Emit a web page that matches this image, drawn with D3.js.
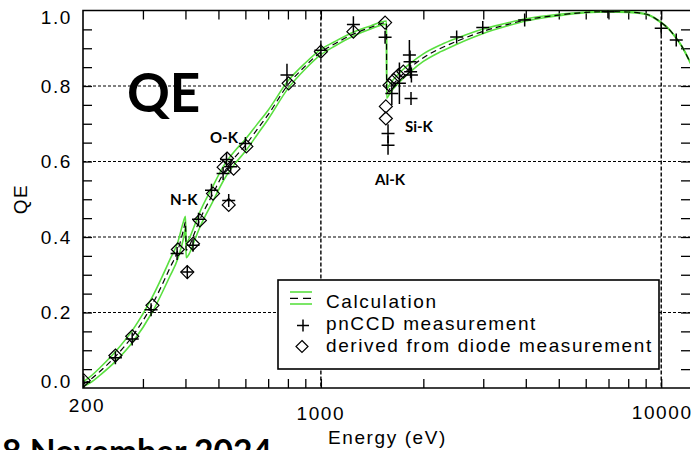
<!DOCTYPE html>
<html><head><meta charset="utf-8">
<script src="https://cdn.jsdelivr.net/npm/d3@7"></script>
<style>
html,body{margin:0;padding:0;background:#fff;}
svg{display:block;}
</style></head><body>
<svg id="chart" width="693" height="450"></svg>
<script>
// Calculated quantum efficiency: lower bound, central value, upper bound
const calcEnergy = [200, 210, 225, 250, 280, 320, 360, 380, 395, 400, 402, 410, 425, 440, 480, 520, 560, 600, 650, 700, 800, 900, 1000, 1100, 1250, 1400, 1559, 1560, 1600, 1700, 1838, 2000, 2250, 2500, 3000, 3500, 4000, 5000, 6000, 7000, 8000, 8700, 9200, 10000, 10500, 11000, 11500, 12200];
const calcMid  = [0.010, 0.022, 0.045, 0.085, 0.138, 0.222, 0.318, 0.365, 0.420, 0.440, 0.365, 0.375, 0.410, 0.444, 0.512, 0.572, 0.612, 0.643, 0.685, 0.724, 0.803, 0.853, 0.890, 0.912, 0.938, 0.955, 0.968, 0.780, 0.795, 0.822, 0.850, 0.875, 0.900, 0.918, 0.945, 0.962, 0.975, 0.988, 0.995, 0.997, 0.996, 0.993, 0.988, 0.968, 0.952, 0.930, 0.905, 0.860];
const calcHigh = [0.016, 0.030, 0.055, 0.098, 0.154, 0.242, 0.340, 0.387, 0.442, 0.455, 0.385, 0.395, 0.430, 0.464, 0.532, 0.591, 0.629, 0.659, 0.699, 0.736, 0.813, 0.861, 0.897, 0.918, 0.943, 0.959, 0.972, 0.792, 0.807, 0.834, 0.861, 0.885, 0.909, 0.926, 0.951, 0.966, 0.978, 0.990, 0.996, 0.998, 0.997, 0.994, 0.989, 0.969, 0.953, 0.931, 0.906, 0.861];
const calcLow  = [0.004, 0.014, 0.035, 0.072, 0.122, 0.202, 0.296, 0.343, 0.398, 0.425, 0.345, 0.355, 0.390, 0.424, 0.492, 0.553, 0.595, 0.627, 0.671, 0.712, 0.793, 0.845, 0.883, 0.906, 0.933, 0.951, 0.964, 0.768, 0.783, 0.810, 0.839, 0.865, 0.891, 0.910, 0.939, 0.958, 0.972, 0.986, 0.994, 0.996, 0.995, 0.992, 0.987, 0.967, 0.951, 0.929, 0.904, 0.859];

// QE derived from diode measurement
const diodeEnergy = [201, 249, 279, 320, 380, 405, 421, 441, 482, 518, 530, 536, 554, 604, 804, 1000, 1246, 1544, 1552, 1552, 1590, 1636, 1690, 1747];
const diodeQE     = [0.020, 0.086, 0.137, 0.219, 0.367, 0.307, 0.382, 0.444, 0.515, 0.585, 0.608, 0.485, 0.581, 0.640, 0.807, 0.891, 0.944, 0.968, 0.746, 0.714, 0.802, 0.816, 0.829, 0.838];

// pnCCD measurements with vertical uncertainty
const ccdEnergy = [201, 249, 279, 317, 378, 405, 421, 437, 477, 516, 528, 536, 543, 600, 795, 1000, 1246, 1544, 1575, 1575, 1616, 1701, 1820, 1828, 1835, 1840, 1845, 2506, 2990, 3970, 6975, 10000, 11070];
const ccdQE     = [0.015, 0.080, 0.130, 0.207, 0.356, 0.307, 0.378, 0.447, 0.524, 0.568, 0.605, 0.497, 0.586, 0.648, 0.829, 0.895, 0.963, 0.929, 0.674, 0.643, 0.780, 0.807, 0.882, 0.864, 0.838, 0.767, 0.829, 0.930, 0.955, 0.975, 0.997, 0.953, 0.922];
const ccdErr    = [0, 0, 0, 0, 0, 0, 0, 0, 0, 0, 0, 0, 0, 0, 0.030, 0, 0.022, 0, 0.025, 0.025, 0.030, 0.055, 0.040, 0.030, 0, 0, 0.020, 0, 0, 0, 0, 0, 0];

// Axis ticks and labels
const xTicks = [300, 400, 500, 600, 700, 800, 900, 1000, 2000, 3000, 4000, 5000, 6000, 7000, 8000, 9000, 10000];
const xLabelValues = [200, 1000, 10000];
const yTicks = [0.05, 0.1, 0.15, 0.2, 0.25, 0.3, 0.35, 0.4, 0.45, 0.5, 0.55, 0.6, 0.65, 0.7, 0.75, 0.8, 0.85, 0.9, 0.95];
const yLabelValues = [0, 0.2, 0.4, 0.6, 0.8, 1.0];
const xGrid = [1000, 10000];
const yGrid = [0.2, 0.4, 0.6, 0.8];
const legendItems = ["Calculation", "pnCCD measurement", "derived from diode measurement"];

const svg = d3.select("#chart");
const L = 83, R = 690, T = 10.5, B = 388;
const x = d3.scaleLog().domain([200, 12150]).range([L, R]);
const y = d3.scaleLinear().domain([0, 1]).range([B, T]);
const green = "#5ae040";
const axisFont = "'Liberation Sans', Arial, sans-serif";
const axisSize = 19, axisSpacing = 1.6;

svg.append("rect").attr("width", 693).attr("height", 450).attr("fill", "#fff");
svg.append("defs").append("clipPath").attr("id", "plot")
  .append("rect").attr("x", L).attr("y", T).attr("width", R - L).attr("height", B - T);

// dashed grid
svg.append("g").selectAll("line").data(yGrid).join("line")
  .attr("x1", L).attr("x2", R).attr("y1", d => y(d)).attr("y2", d => y(d))
  .attr("stroke", "#000").attr("stroke-width", 1.1).attr("stroke-dasharray", "3,2");
svg.append("g").selectAll("line").data(xGrid).join("line")
  .attr("x1", d => x(d)).attr("x2", d => x(d)).attr("y1", T).attr("y2", B)
  .attr("stroke", "#000").attr("stroke-width", 1.4).attr("stroke-dasharray", "4,2");

// inward ticks on all four sides
function styleAxis(g) {
  g.select(".domain").remove();
  g.selectAll(".tick line").attr("stroke", "#000").attr("stroke-width", 1.3);
}
svg.append("g").attr("transform", `translate(0,${B})`)
  .call(d3.axisBottom(x).tickValues(xTicks).tickSize(-9).tickFormat("")).call(styleAxis);
svg.append("g").attr("transform", `translate(0,${T})`)
  .call(d3.axisTop(x).tickValues(xTicks).tickSize(-9).tickFormat("")).call(styleAxis);
svg.append("g").attr("transform", `translate(${L},0)`)
  .call(d3.axisLeft(y).tickValues(yTicks).tickSize(-9).tickFormat("")).call(styleAxis);
svg.append("g").attr("transform", `translate(${R},0)`)
  .call(d3.axisRight(y).tickValues(yTicks).tickSize(-9).tickFormat("")).call(styleAxis);

// frame
svg.append("path").attr("d", `M${R},${T}H${L}V${B}H${R}`)
  .attr("fill", "none").attr("stroke", "#000").attr("stroke-width", 1.6);

// tick labels
const fmt = d3.format(".1f");
const yLabelShift = {0: -6.5, 1: 7};
svg.append("g").selectAll("text").data(yLabelValues).join("text")
  .attr("x", 72).attr("y", d => y(d) + (yLabelShift[d] || 0))
  .attr("dy", "0.36em").attr("text-anchor", "end")
  .attr("font-family", axisFont).attr("font-size", axisSize).attr("letter-spacing", axisSpacing)
  .text(d => fmt(d));
const xLabelShift = {200: [4, 24], 1000: [0, 32], 10000: [1, 31]};
svg.append("g").selectAll("text").data(xLabelValues).join("text")
  .attr("x", d => x(d) + xLabelShift[d][0]).attr("y", d => B + xLabelShift[d][1])
  .attr("text-anchor", "middle")
  .attr("font-family", axisFont).attr("font-size", axisSize).attr("letter-spacing", axisSpacing)
  .text(d => d);

// axis titles
svg.append("text").attr("x", 328).attr("y", 444)
  .attr("font-family", axisFont).attr("font-size", axisSize).attr("letter-spacing", axisSpacing)
  .text("Energy (eV)");
svg.append("text").attr("transform", "translate(27,199) rotate(-90)")
  .attr("text-anchor", "middle")
  .attr("font-family", axisFont).attr("font-size", axisSize).attr("letter-spacing", axisSpacing)
  .text("QE");

// calculation band and central curve
const plot = svg.append("g").attr("clip-path", "url(#plot)");
const line = d3.line().x((d, i) => x(calcEnergy[i])).y(d => y(d)).curve(d3.curveMonotoneX);
[calcHigh, calcLow].forEach(s => {
  plot.append("path").attr("d", line(s)).attr("fill", "none")
    .attr("stroke", green).attr("stroke-width", 1.6);
});
plot.append("path").attr("d", line(calcMid)).attr("fill", "none")
  .attr("stroke", "#000").attr("stroke-width", 1.2).attr("stroke-dasharray", "6,4");

// diode diamonds
const diamond = "M0,-6.5L6.5,0L0,6.5L-6.5,0Z";
plot.append("g").selectAll("path").data(diodeEnergy).join("path")
  .attr("transform", (d, i) => `translate(${x(d)},${y(diodeQE[i])})`)
  .attr("d", diamond).attr("fill", "none").attr("stroke", "#000").attr("stroke-width", 1.2);

// pnCCD pluses, vertical bar stretched by uncertainty
plot.append("g").selectAll("path").data(ccdEnergy).join("path")
  .attr("transform", (d, i) => `translate(${x(d)},${y(ccdQE[i])})`)
  .attr("d", (d, i) => {
    const v = Math.max(6.5, y(0) - y(ccdErr[i]));
    return `M-6.5,0H6.5M0,${-v}V${v}`;
  })
  .attr("fill", "none").attr("stroke", "#000").attr("stroke-width", 1.5);

// absorption edge labels
const edgeFont = "Lato, 'Open Sans', sans-serif";
[["N-K", 170, 205], ["O-K", 210, 143], ["Si-K", 405, 132], ["Al-K", 375, 185]].forEach(([t, tx, ty]) => {
  svg.append("text").attr("x", tx).attr("y", ty)
    .attr("font-family", edgeFont).attr("font-weight", 700).attr("font-size", 15)
    .text(t);
});

// legend
const lg = svg.append("g");
lg.append("rect").attr("x", 278).attr("y", 280).attr("width", 381).attr("height", 89)
  .attr("fill", "#fff").attr("stroke", "#000").attr("stroke-width", 1.6);
lg.append("line").attr("x1", 290).attr("x2", 312).attr("y1", 292).attr("y2", 292)
  .attr("stroke", green).attr("stroke-width", 1.6);
lg.append("line").attr("x1", 290).attr("x2", 312).attr("y1", 304).attr("y2", 304)
  .attr("stroke", green).attr("stroke-width", 1.6);
lg.append("line").attr("x1", 290).attr("x2", 312).attr("y1", 298.3).attr("y2", 298.3)
  .attr("stroke", "#000").attr("stroke-width", 1.2).attr("stroke-dasharray", "8,5");
lg.append("path").attr("transform", "translate(303,325.5)").attr("d", "M-6,0H6M0,-6V6")
  .attr("stroke", "#000").attr("stroke-width", 1.5);
lg.append("path").attr("transform", "translate(302,346.5)").attr("d", "M0,-6L6,0L0,6L-6,0Z")
  .attr("fill", "none").attr("stroke", "#000").attr("stroke-width", 1.2);
lg.selectAll("text").data(legendItems).join("text")
  .attr("x", 326).attr("y", (d, i) => [308, 330, 352][i])
  .attr("font-family", axisFont).attr("font-size", axisSize).attr("letter-spacing", axisSpacing)
  .text(d => d);

// headline and date
svg.append("text").attr("x", 127).attr("y", 112)
  .attr("font-family", "Lato, 'Open Sans', sans-serif").attr("font-weight", 700).attr("font-size", 53)
  .text("QE");
svg.append("text").attr("x", 2).attr("y", 464)
  .attr("font-family", "Lato, 'Open Sans', sans-serif").attr("font-weight", 700).attr("font-size", 34)
  .attr("textLength", 270).attr("lengthAdjust", "spacingAndGlyphs")
  .text("8 November 2024");
</script>
</body></html>
